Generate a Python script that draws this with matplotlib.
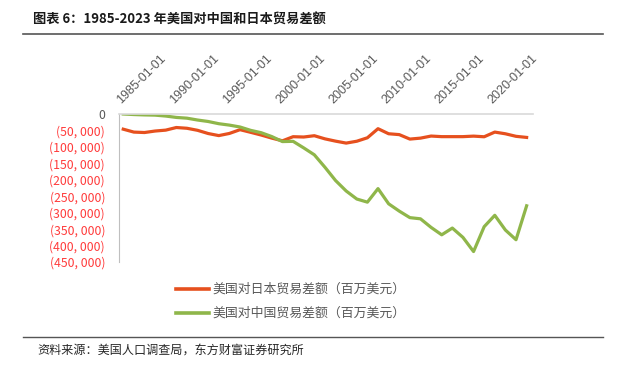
import numpy as np
import matplotlib
matplotlib.use("Agg")
import matplotlib.pyplot as plt
from matplotlib.ticker import FuncFormatter

plt.rcParams['font.family'] = ['Noto Sans CJK SC', 'DejaVu Sans']

# data (millions USD)
years = list(range(1985, 2024))
japan = [-46152, -55029, -56326, -51794, -49059, -41105, -43385, -49601, -59355, -65669,
         -59137, -47683, -55688, -64014, -73398, -81555, -69022, -69979, -66032, -75562,
         -82525, -88441, -82808, -72300, -44669, -60073, -62668, -76258, -73382, -67044,
         -68860, -68850, -68848, -67282, -69213, -54996, -60156, -67880, -71225]
china = [-6, -1665, -2796, -3489, -6234, -10431, -12691, -18309, -22777, -29505,
         -33790, -39520, -49696, -56927, -68677, -83833, -83096, -103065, -124068, -161938,
         -202278, -234101, -258506, -268040, -226877, -273042, -295250, -315102, -318684, -344818,
         -367328, -346825, -375168, -418232, -342630, -308022, -352831, -382289, -279112]
tick_years = [1985, 1990, 1995, 2000, 2005, 2010, 2015, 2020]
label_japan = '美国对日本贸易差额（百万美元）'
label_china = '美国对中国贸易差额（百万美元）'

red = '#E6501E'
green = '#8FB64A'

fig = plt.figure(figsize=(6.25, 3.7), dpi=100)
ax = fig.add_axes([119/625, 1-262/370, 414/625, 148/370])

x = np.arange(len(years))
ax.plot(x, japan, color=red, lw=2.3, solid_joinstyle='round')
ax.plot(x, china, color=green, lw=2.3, solid_joinstyle='round')

ax.set_xlim(-0.4, len(years) - 0.4)
ax.set_ylim(-450000, 0)
ax.set_yticks(np.arange(-450000, 1, 50000))

def fmt(v, pos):
    if v == 0:
        return '0'
    return '({:,.0f})'.format(abs(v)).replace(',', ', ')
ax.yaxis.set_major_formatter(FuncFormatter(fmt))
for t in ax.get_yticklabels():
    t.set_color('#FF3B3B' if t.get_text() != '0' else '#595959')
ax.tick_params(axis='y', length=0, pad=10, labelsize=8.8)

ax.xaxis.tick_top()
ax.set_xticks([years.index(y) for y in tick_years])
ax.set_xticklabels([str(y) + '-01-01' for y in tick_years], rotation=45,
                   ha='left', va='bottom', rotation_mode='anchor', color='#595959',
                   fontsize=9.0, family='Liberation Sans')
ax.tick_params(axis='x', length=0, pad=6)

for s in ['right', 'bottom']:
    ax.spines[s].set_visible(False)
ax.spines['top'].set_color('#D9D9D9')
ax.spines['top'].set_linewidth(1.2)
ax.spines['left'].set_color('#BFBFBF')

# legend drawn by hand
fig.lines.append(plt.Line2D([176/625, 209/625], [1-289/370]*2, color=red, lw=2.6, transform=fig.transFigure))
fig.lines.append(plt.Line2D([176/625, 209/625], [1-313/370]*2, color=green, lw=2.6, transform=fig.transFigure))
fig.text(212/625, 1-289/370, label_japan, color='#595959', fontsize=9.3, va='center', ha='left')
fig.text(212/625, 1-313/370, label_china, color='#595959', fontsize=9.3, va='center', ha='left')

# title and source
fig.text(33/625, 1-20/370, '图表 6：1985-2023 年美国对中国和日本贸易差额', fontsize=9.5,
         fontweight='bold', va='center', ha='left', color='#1a1a1a')
fig.lines.append(plt.Line2D([23/625, 603/625], [1-34/370]*2, color='#555555', lw=1.2, transform=fig.transFigure))
fig.lines.append(plt.Line2D([23/625, 603/625], [1-337/370]*2, color='#555555', lw=1.0, transform=fig.transFigure))
fig.text(37/625, 1-350/370, '资料来源：美国人口调查局，东方财富证券研究所', fontsize=8.7,
         va='center', ha='left', color='#262626')

fig.savefig('out.png', dpi=100)
